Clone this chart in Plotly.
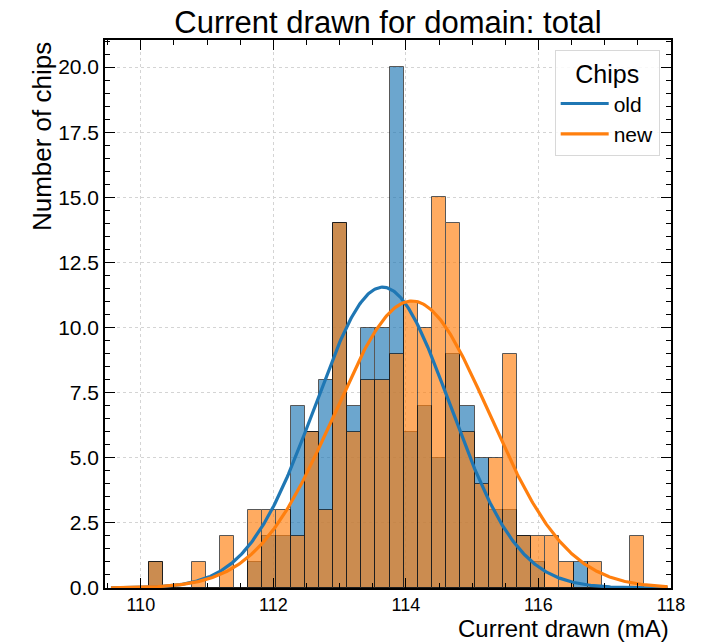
import numpy as np
import plotly.graph_objects as go

# ---- data ----
bin_start = 110.125      # left edge of first bin (mA)
bin_width = 0.2135       # bin width (mA)
counts_old = [1, 0, 0, 0, 0, 0, 0, 1, 2, 2, 7, 6, 8, 14, 7, 10, 10, 20, 6, 7,
              5, 9, 7, 5, 3, 3, 2, 1, 0, 0, 1, 0, 0, 0, 0]
counts_new = [1, 0, 0, 1, 0, 2, 0, 3, 3, 3, 2, 6, 3, 14, 6, 8, 8, 9, 11, 10,
              15, 14, 6, 4, 5, 9, 2, 2, 2, 1, 0, 1, 0, 0, 2]
series_names = ["old", "new"]
# gaussian fit parameters (mean, sigma, peak height)
fit_old = (113.65, 1.02, 11.55)
fit_new = (114.09, 1.17, 11.02)
fit_range = (109.55, 117.95)
x_ticks = [110, 112, 114, 116, 118]

blue = "#1f77b4"
orange = "#ff7f0e"
font_family = "Liberation Sans, Arial, Helvetica, sans-serif"

centers = bin_start + bin_width * (np.arange(len(counts_old)) + 0.5)

fig = go.Figure()
for counts, col, name in [(counts_old, blue, series_names[0]), (counts_new, orange, series_names[1])]:
    fig.add_trace(go.Bar(
        x=centers, y=counts, width=bin_width,
        marker=dict(color=col, line=dict(color="black", width=1)),
        opacity=0.65, showlegend=False, hoverinfo="skip", name=name))

xf = np.linspace(fit_range[0], fit_range[1], 500)
for (mu, sig, amp), col, name in [(fit_old, blue, series_names[0]), (fit_new, orange, series_names[1])]:
    fig.add_trace(go.Scatter(
        x=xf, y=amp * np.exp(-0.5 * ((xf - mu) / sig) ** 2),
        mode="lines", line=dict(color=col, width=3.2), name=name))

axis_common = dict(
    showline=True, linecolor="black", linewidth=1.5, mirror="allticks",
    ticks="inside", ticklen=10, tickwidth=1.2, tickcolor="black",
    showgrid=True, gridcolor="#d4d4d4", griddash="dot", gridwidth=1,
    zeroline=False,
)

fig.update_xaxes(range=[109.46, 118.0], tickvals=x_ticks,
                 tickfont=dict(size=18, color="black", family=font_family),
                 minor=dict(ticks="inside", dtick=0.5, ticklen=5, tickcolor="black", showgrid=False),
                 **axis_common)
fig.update_yaxes(range=[0, 21.04], dtick=2.5, tickformat=".1f",
                 tickfont=dict(size=21, color="black", family=font_family),
                 minor=dict(ticks="inside", dtick=0.5, ticklen=5, tickcolor="black", showgrid=False),
                 **axis_common)

fig.update_layout(
    width=710, height=643,
    margin=dict(l=105, r=39, t=40, b=55),
    plot_bgcolor="white", paper_bgcolor="white",
    barmode="overlay", bargap=0,
    font=dict(family=font_family, color="black"),
    title=dict(text="Current drawn for domain: total", x=0.5465, xanchor="center",
               y=1 - 22 / 643, yanchor="middle", yref="container",
               font=dict(size=31, color="black", family=font_family)),
    legend=dict(
        title=dict(text="Chips", side="top center", font=dict(size=25, family=font_family)),
        x=0.98, y=0.982, xanchor="right", yanchor="top",
        bgcolor="rgba(255,255,255,0.85)", bordercolor="#d8d8d8", borderwidth=1,
        font=dict(size=21, family=font_family), itemwidth=48,
    ),
    annotations=[
        dict(text="Current drawn (mA)", xref="paper", yref="paper", x=1, y=0,
             xanchor="right", yanchor="top", yshift=-25, showarrow=False,
             font=dict(size=24, family=font_family, color="black")),
        dict(text="Number of chips", xref="paper", yref="paper", x=-0.112, y=1.0,
             xanchor="center", yanchor="top", textangle=-90, showarrow=False,
             font=dict(size=26, family=font_family, color="black")),
    ],
)

fig.write_html("out.html")
